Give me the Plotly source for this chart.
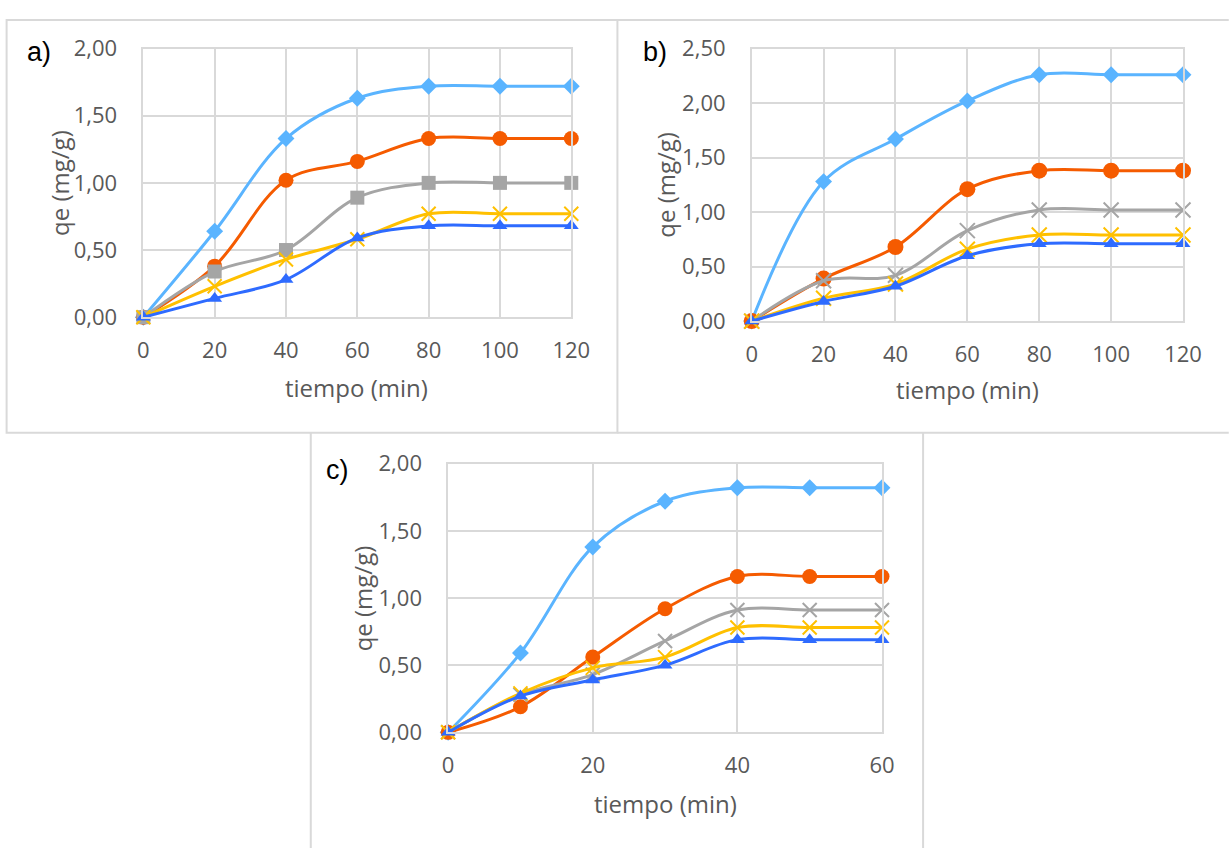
import plotly.graph_objects as go

W, H = 1230, 848

# ---------------- data ----------------
t_ab = [0, 20, 40, 60, 80, 100, 120]
t_c = [0, 10, 20, 30, 40, 50, 60]

a_s1 = [0, 0.64, 1.33, 1.63, 1.72, 1.72, 1.72]
a_s2 = [0, 0.38, 1.02, 1.16, 1.33, 1.33, 1.33]
a_s3 = [0, 0.34, 0.50, 0.89, 1.00, 1.00, 1.00]
a_s4 = [0, 0.23, 0.43, 0.58, 0.77, 0.77, 0.77]
a_s5 = [0, 0.14, 0.28, 0.59, 0.68, 0.68, 0.68]

b_s1 = [0, 1.28, 1.67, 2.02, 2.26, 2.26, 2.26]
b_s2 = [0, 0.39, 0.68, 1.21, 1.38, 1.38, 1.38]
b_s3 = [0, 0.37, 0.42, 0.83, 1.02, 1.02, 1.02]
b_s4 = [0, 0.21, 0.34, 0.66, 0.79, 0.79, 0.79]
b_s5 = [0, 0.18, 0.32, 0.60, 0.71, 0.71, 0.71]

c_s1 = [0, 0.59, 1.38, 1.72, 1.82, 1.82, 1.82]
c_s2 = [0, 0.19, 0.56, 0.92, 1.16, 1.16, 1.16]
c_s3 = [0, 0.28, 0.43, 0.68, 0.91, 0.91, 0.91]
c_s4 = [0, 0.29, 0.48, 0.56, 0.78, 0.78, 0.78]
c_s5 = [0, 0.27, 0.39, 0.50, 0.69, 0.69, 0.69]

x_title = "tiempo (min)"
y_title = "qe (mg/g)"
panel_labels = ["a)", "b)", "c)"]

# ---------------- styles ----------------
C1 = "#5AB4FF"   # light blue
C2 = "#F55B00"   # orange
C3 = "#A5A5A5"   # gray
C4 = "#FFC000"   # yellow
C5 = "#2E6BFF"   # blue
GRID = "#D9D9D9"
TXT = "#595959"
FONT = "Open Sans"

fig = go.Figure()


def add_series(x, y, color, symbol, size, xa, ya, xmark=False):
    marker = dict(color=color, symbol=symbol, size=size)
    if xmark:
        marker = dict(color=color, symbol="x-thin", size=size,
                      line=dict(color=color, width=2))
    fig.add_trace(go.Scatter(
        x=x, y=y, mode="lines+markers", xaxis=xa, yaxis=ya,
        line=dict(color=color, width=3, shape="spline", smoothing=1.0),
        marker=marker, cliponaxis=False, showlegend=False, hoverinfo="x+y"))


# panel a
add_series(t_ab, a_s1, C1, "diamond", 13, "x", "y")
add_series(t_ab, a_s2, C2, "circle", 15, "x", "y")
add_series(t_ab, a_s3, C3, "square", 14, "x", "y")
add_series(t_ab, a_s4, C4, None, 14, "x", "y", xmark=True)
add_series(t_ab, a_s5, C5, "triangle-up", 13, "x", "y")
# panel b
add_series(t_ab, b_s1, C1, "diamond", 13, "x2", "y2")
add_series(t_ab, b_s2, C2, "circle", 16, "x2", "y2")
add_series(t_ab, b_s3, C3, None, 15, "x2", "y2", xmark=True)
add_series(t_ab, b_s4, C4, None, 15, "x2", "y2", xmark=True)
add_series(t_ab, b_s5, C5, "triangle-up", 13, "x2", "y2")
# panel c
add_series(t_c, c_s1, C1, "diamond", 13, "x3", "y3")
add_series(t_c, c_s2, C2, "circle", 15, "x3", "y3")
add_series(t_c, c_s3, C3, None, 14, "x3", "y3", xmark=True)
add_series(t_c, c_s4, C4, None, 14, "x3", "y3", xmark=True)
add_series(t_c, c_s5, C5, "triangle-up", 13, "x3", "y3")


# pixel position in the picture -> paper fraction (compensates the viewer's slight shrink)
def px_x(p):
    return ((p - 7.9) / 0.98716) / W


def px_y(p):
    return 1 - ((p - 7.85) / 0.98148) / H


def xaxis(left, right, rng, dtick, anchor):
    return dict(domain=[px_x(left), px_x(right)], range=rng, dtick=dtick,
                tick0=0, showgrid=True, gridcolor=GRID, gridwidth=1.5,
                zeroline=False, showline=True, linecolor=GRID, linewidth=1.5,
                mirror=True, ticks="", ticklabelstandoff=13,
                tickfont=dict(family=FONT, size=22, color=TXT), anchor=anchor,
                fixedrange=True)


def yaxis(bottom, top, rng, anchor):
    return dict(domain=[px_y(bottom), px_y(top)], range=rng, dtick=0.5,
                tick0=0, tickformat=".2f", showgrid=True, gridcolor=GRID,
                gridwidth=1.5, zeroline=False, showline=True, linecolor=GRID,
                linewidth=1.5, mirror=True, ticks="", ticklabelstandoff=20,
                tickfont=dict(family=FONT, size=22, color=TXT), anchor=anchor,
                fixedrange=True)


layout = dict(
    width=W, height=H, margin=dict(l=0, r=0, t=0, b=0),
    paper_bgcolor="white", plot_bgcolor="white", separators=",.",
    xaxis=xaxis(146.3, 577.5, [0, 120], 20, "y"),
    yaxis=yaxis(314.3, 41, [0, 2], "x"),
    xaxis2=xaxis(759.3, 1193.9, [0, 120], 20, "y2"),
    yaxis2=yaxis(318.3, 41, [0, 2.5], "x2"),
    xaxis3=xaxis(453.4, 890.6, [0, 60], 20, "y3"),
    yaxis3=yaxis(736.7, 463.3, [0, 2], "x3"),
)
fig.update_layout(**layout)

# panel borders
border = dict(color=GRID, width=2)
shapes = [
    dict(type="rect", xref="paper", yref="paper", x0=px_x(8.5), x1=px_x(624),
         y0=px_y(432), y1=px_y(12), line=border),
    dict(type="line", xref="paper", yref="paper", x0=px_x(624), x1=px_x(1240),
         y0=px_y(12), y1=px_y(12), line=border),
    dict(type="line", xref="paper", yref="paper", x0=px_x(624), x1=px_x(1240),
         y0=px_y(432), y1=px_y(432), line=border),
    dict(type="line", xref="paper", yref="paper", x0=px_x(315), x1=px_x(315),
         y0=px_y(432), y1=px_y(860), line=border),
    dict(type="line", xref="paper", yref="paper", x0=px_x(932), x1=px_x(932),
         y0=px_y(432), y1=px_y(860), line=border),
]
fig.update_layout(shapes=shapes)

ann = []
for lab, (cx, cy) in zip(panel_labels, [(41, 44), (662, 44), (342, 470)]):
    ann.append(dict(text=lab, x=px_x(cx), y=px_y(cy), xref="paper", yref="paper",
                    showarrow=False, xanchor="center", yanchor="middle",
                    font=dict(family="Liberation Sans", size=27, color="black")))
for (cx, cy) in [(361.5, 386), (976.6, 388), (672, 809)]:
    ann.append(dict(text=x_title, x=px_x(cx), y=px_y(cy), xref="paper", yref="paper",
                    showarrow=False, xanchor="center", yanchor="middle",
                    font=dict(family=FONT, size=24, color=TXT)))
for (cx, cy) in [(62, 178), (672.5, 180), (368, 600)]:
    ann.append(dict(text=y_title, x=px_x(cx), y=px_y(cy), xref="paper", yref="paper",
                    showarrow=False, xanchor="center", yanchor="middle", textangle=-90,
                    font=dict(family=FONT, size=24, color=TXT)))
fig.update_layout(annotations=ann)

fig.write_html(
    "out.html",
    config=dict(displayModeBar=False),
    post_script="document.body.style.margin='0';document.body.style.overflow='hidden';",
)
